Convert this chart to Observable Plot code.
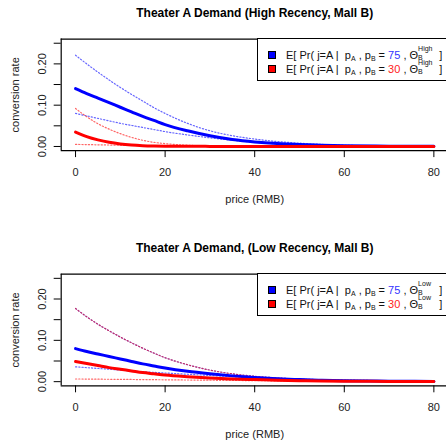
<!DOCTYPE html>
<html><head><meta charset="utf-8">
<script src="https://cdn.jsdelivr.net/npm/d3@7"></script>
<script src="https://cdn.jsdelivr.net/npm/@observablehq/plot@0.6"></script>
<style>
html,body{margin:0;padding:0;background:#fff;overflow:hidden;}
#wrap{position:relative;width:446px;height:444px;overflow:hidden;font-family:"Liberation Sans",Arial,sans-serif;}
.panel{position:absolute;left:0;width:446px;height:222px;}
.panel svg{position:absolute;left:0;top:0;overflow:visible;}
.legend{position:absolute;left:257px;width:192px;height:43px;border:1px solid #000;background:#fff;box-sizing:border-box;}
.row{position:absolute;left:0;height:15px;white-space:nowrap;font-size:11px;color:#111;}
.sw{position:absolute;left:10px;width:8px;height:8px;border:1px solid #000;box-sizing:border-box;top:-4px;}
.txt{position:absolute;left:28px;top:-7px;line-height:14px;}
.sub{font-size:7px;position:relative;top:2px;}
.stack{display:inline-block;position:relative;width:18px;height:10px;vertical-align:baseline;}
.stack .up{position:absolute;left:0;top:-7px;font-size:7px;}
.stack .dn{position:absolute;left:0;top:2px;font-size:7px;}
</style>
</head><body>
<div id="wrap"></div>
<script>
// ---- data ----
const prices = [0, 2.5, 5, 7.5, 10, 12.5, 15, 17.5, 20, 25, 30, 35, 40, 45, 50, 55, 60, 70, 80];

// Top panel: High recency
const blueMeanHigh = [0.140, 0.128, 0.117, 0.106, 0.095, 0.084, 0.073, 0.063, 0.053, 0.038, 0.026, 0.017, 0.011, 0.007, 0.0045, 0.003, 0.002, 0.0008, 0.0003];
const blueUpHigh   = [0.221, 0.200, 0.180, 0.161, 0.143, 0.126, 0.110, 0.094, 0.080, 0.056, 0.038, 0.026, 0.018, 0.012, 0.008, 0.005, 0.003, 0.001, 0.0004];
const blueLoHigh   = [0.080, 0.074, 0.068, 0.062, 0.056, 0.051, 0.046, 0.041, 0.036, 0.028, 0.021, 0.015, 0.010, 0.0065, 0.004, 0.0025, 0.0015, 0.0006, 0.0002];
const redMeanHigh  = [0.035, 0.024, 0.016, 0.010, 0.006, 0.0035, 0.002, 0.0012, 0.0008, 0.0004, 0.0002, 0.0001, 0.0001, 0, 0, 0, 0, 0, 0];
const redUpHigh    = [0.092, 0.072, 0.055, 0.042, 0.031, 0.022, 0.015, 0.010, 0.007, 0.003, 0.0015, 0.0007, 0.0003, 0.0001, 0.0001, 0, 0, 0, 0];
const redLoHigh    = [0.005, 0.0045, 0.004, 0.0035, 0.003, 0.0025, 0.002, 0.0015, 0.0012, 0.0007, 0.0004, 0.0002, 0.0001, 0, 0, 0, 0, 0, 0];

// Bottom panel: Low recency
const blueMeanLow = [0.080, 0.073, 0.067, 0.061, 0.055, 0.049, 0.043, 0.038, 0.033, 0.025, 0.019, 0.014, 0.010, 0.007, 0.005, 0.0035, 0.0025, 0.0012, 0.0006];
const blueUpLow   = [0.177, 0.157, 0.139, 0.123, 0.108, 0.094, 0.081, 0.069, 0.058, 0.041, 0.028, 0.019, 0.013, 0.009, 0.006, 0.004, 0.003, 0.0015, 0.0007];
const blueLoLow   = [0.036, 0.034, 0.032, 0.030, 0.028, 0.026, 0.024, 0.0225, 0.021, 0.018, 0.015, 0.012, 0.010, 0.008, 0.006, 0.005, 0.004, 0.002, 0.001];
const redMeanLow  = [0.049, 0.044, 0.039, 0.034, 0.030, 0.026, 0.022, 0.019, 0.016, 0.012, 0.009, 0.0065, 0.005, 0.0035, 0.0025, 0.0018, 0.0013, 0.0007, 0.0004];
const redUpLow    = [0.177, 0.157, 0.139, 0.123, 0.108, 0.094, 0.081, 0.069, 0.058, 0.041, 0.028, 0.019, 0.013, 0.009, 0.006, 0.004, 0.003, 0.0015, 0.0007];
const redLoLow    = [0.0065, 0.0063, 0.006, 0.0058, 0.0055, 0.0053, 0.005, 0.0048, 0.0045, 0.004, 0.0035, 0.003, 0.0025, 0.002, 0.0018, 0.0015, 0.0012, 0.0008, 0.0005];

const xTicks = [0, 20, 40, 60, 80];
const yTicks = [0, 0.05, 0.10, 0.15, 0.20, 0.25];
const yTickLabels = [0, 0.10, 0.20];

const titles = ["Theater A Demand (High Recency, Mall B)", "Theater A Demand, (Low Recency, Mall B)"];
const xLabel = "price (RMB)";
const yLabel = "conversion rate";
const legendPrices = [75, 30];
const legendTheta = ["High", "Low"];
const BLUE = "#0000ff", RED = "#ff0000";

function rows(arr) { return prices.map((p, i) => ({price: p, value: arr[i]})); }

const FONT = "Liberation Sans, Arial, sans-serif";

function makePanel(idx, series, top, bottom) {
  const W = 446, H = 222;
  const dotted = [
    [series.blueUp, BLUE], [series.blueLo, BLUE], [series.redUp, RED], [series.redLo, RED]
  ];
  const marks = [];
  for (const [arr, col] of dotted) {
    marks.push(Plot.line(rows(arr), {x: "price", y: "value", stroke: col, strokeWidth: 1.2, strokeOpacity: 0.6, strokeDasharray: "1.2,2", curve: "monotone-x"}));
  }
  marks.push(Plot.line(rows(series.blueMean), {x: "price", y: "value", stroke: BLUE, strokeWidth: 3, curve: "monotone-x"}));
  marks.push(Plot.line(rows(series.redMean), {x: "price", y: "value", stroke: RED, strokeWidth: 3, curve: "monotone-x"}));
  // box (top, bottom, left) — right edge falls outside the picture
  marks.push(Plot.ruleY([-0.01, 0.26], {stroke: "#000", strokeWidth: 1.2}));
  marks.push(Plot.ruleX([-3.2], {stroke: "#000", strokeWidth: 1.2}));
  marks.push(Plot.axisX(xTicks, {tickSize: 7, tickFormat: () => "", label: null, strokeWidth: 1}));
  marks.push(Plot.axisY(yTicks, {tickSize: 7, tickFormat: () => "", label: null, strokeWidth: 1}));
  marks.push(Plot.text(xTicks, {x: d => d, frameAnchor: "bottom", dy: 21.5, lineAnchor: "middle", text: d => String(d), fontSize: 11, fill: "#222"}));
  marks.push(Plot.text(yTickLabels, {y: d => d, frameAnchor: "left", dx: -19, rotate: -90, textAnchor: "middle", lineAnchor: "middle", text: d => d.toFixed(2), fontSize: 11, fill: "#222"}));
  marks.push(Plot.text([titles[idx]], {frameAnchor: "top", dy: -26.3, lineAnchor: "middle", text: d => d, fontSize: 12, fontWeight: "bold", fill: "#000"}));
  marks.push(Plot.text([xLabel], {frameAnchor: "bottom", dy: 48.8, lineAnchor: "middle", text: d => d, fontSize: 11, fill: "#222"}));
  marks.push(Plot.text([yLabel], {frameAnchor: "left", dx: -45.5, rotate: -90, textAnchor: "middle", lineAnchor: "middle", text: d => d, fontSize: 11, fill: "#222"}));

  return Plot.plot({
    width: W, height: H,
    marginLeft: 60.7, marginRight: -1.7, marginTop: top, marginBottom: H - bottom,
    x: {domain: [-3.2, 83.2], range: [60.7, 447.7]},
    y: {domain: [-0.01, 0.26], range: [bottom, top]},
    style: {fontFamily: FONT, background: "transparent", overflow: "visible"},
    marks
  });
}

function legendHTML(idx, boxTop) {
  const cols = [BLUE, RED];
  let html = `<div class="legend" style="top:${boxTop}px">`;
  legendPrices.forEach((p, i) => {
    html += `<div class="row" style="top:${15.5 + i * 14.5}px">` +
      `<div class="sw" style="background:${cols[i]}"></div>` +
      `<div class="txt">E[ Pr( j=A |&nbsp; p<span class="sub">A</span> , p<span class="sub">B</span> = <span style="color:${i === 0 ? '#3333ff' : '#ff2222'}">${p}</span> , Θ<span class="stack"><span class="up">${legendTheta[idx]}</span><span class="dn">B</span></span> ]</div>` +
      `</div>`;
  });
  html += `</div>`;
  return html;
}

const wrap = document.getElementById("wrap");
const panels = [
  {top: 38.6, bottom: 150.1, offset: 0,
   s: {blueMean: blueMeanHigh, blueUp: blueUpHigh, blueLo: blueLoHigh, redMean: redMeanHigh, redUp: redUpHigh, redLo: redLoHigh}},
  {top: 51.7, bottom: 163.3, offset: 222,
   s: {blueMean: blueMeanLow, blueUp: blueUpLow, blueLo: blueLoLow, redMean: redMeanLow, redUp: redUpLow, redLo: redLoLow}}
];
panels.forEach((p, i) => {
  const div = document.createElement("div");
  div.className = "panel";
  div.style.top = p.offset + "px";
  div.appendChild(makePanel(i, p.s, p.top, p.bottom));
  div.insertAdjacentHTML("beforeend", legendHTML(i, p.top - 0.3));
  wrap.appendChild(div);
});
</script>
</body></html>
